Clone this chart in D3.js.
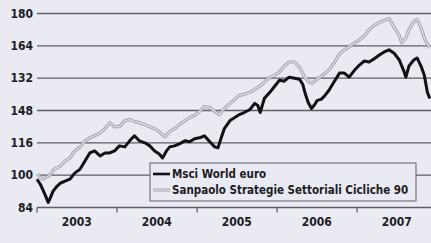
<!DOCTYPE html>
<html>
<head>
<meta charset="utf-8">
<script src="https://cdn.jsdelivr.net/npm/d3@7"></script>
<style>
    html, body { margin: 0; padding: 0; background: #e9eaf2; }
    #chart { width: 431px; height: 243px; overflow: hidden; }
    text { font-family: "Liberation Sans Narrow", "DejaVu Sans Condensed", sans-serif; font-weight: bold; fill: #1c1c22; }
</style>
</head>
<body>
<div id="chart"></div>
<script>
const YEARS = [2003, 2004, 2005, 2006, 2007];
const Y_TICKS = [84, 100, 116, 132, 148, 164, 180];
// labels as printed on the original (two of them swapped)
const Y_TICK_LABELS = ["84", "100", "116", "148", "132", "164", "180"];

const SERIES_NAMES = ["Msci World euro", "Sanpaolo Strategie Settoriali Cicliche 90"];

// decimal year / index value
const msciTimes = [
    2003.00, 2003.04, 2003.07, 2003.11, 2003.14, 2003.16, 2003.20, 2003.25, 2003.29, 2003.35,
    2003.41, 2003.47, 2003.54, 2003.60, 2003.66, 2003.72, 2003.79, 2003.85, 2003.91, 2003.97,
    2004.03, 2004.10, 2004.16, 2004.22, 2004.28, 2004.35, 2004.41, 2004.47, 2004.53, 2004.57,
    2004.62, 2004.66, 2004.72, 2004.78, 2004.85, 2004.91, 2004.97, 2005.03, 2005.09, 2005.16,
    2005.22, 2005.26, 2005.31, 2005.34, 2005.41, 2005.47, 2005.53, 2005.59, 2005.66, 2005.72,
    2005.76, 2005.79, 2005.84, 2005.91, 2005.97, 2006.03, 2006.09, 2006.15, 2006.22, 2006.28,
    2006.32, 2006.35, 2006.39, 2006.43, 2006.47, 2006.50, 2006.55, 2006.59, 2006.65, 2006.71,
    2006.78, 2006.84, 2006.90, 2006.97, 2007.03, 2007.09, 2007.15, 2007.21, 2007.28, 2007.34,
    2007.40, 2007.46, 2007.53, 2007.58, 2007.61, 2007.65, 2007.71, 2007.75, 2007.80, 2007.84,
    2007.88, 2007.91
];
const msciValues = [
    98, 95.5, 93, 89.5, 86.5, 88, 92, 94.5, 96, 97,
    98, 101, 103, 107, 111, 112, 109.5, 111, 111, 112,
    114.5, 114, 117, 119.5, 117, 116, 114.5, 112, 110.5, 108.5,
    112, 114, 114.5, 115.5, 117, 116.5, 118, 118.5, 119.5, 116.5,
    114, 113.5, 119.5, 123, 127, 128.5, 130, 131, 132.5, 135.5,
    134.5, 131, 138, 141, 144, 147, 146.5, 148.5, 148, 147.5,
    145, 140.5, 136, 133, 135, 137, 137.5, 139, 142, 146,
    150.5, 150.5, 148.5, 152, 154.5, 156.5, 156, 157.5, 159.5, 161,
    162, 160.5, 157, 152, 148.5, 154, 157, 158, 154, 149.5,
    141, 138
];

const sanpaoloTimes = [
    2003.00, 2003.04, 2003.07, 2003.12, 2003.16, 2003.22, 2003.29, 2003.35, 2003.41, 2003.47,
    2003.54, 2003.60, 2003.66, 2003.72, 2003.79, 2003.85, 2003.91, 2003.97, 2004.03, 2004.10,
    2004.16, 2004.22, 2004.28, 2004.35, 2004.41, 2004.47, 2004.53, 2004.60, 2004.66, 2004.72,
    2004.78, 2004.85, 2004.91, 2004.97, 2005.03, 2005.09, 2005.16, 2005.22, 2005.28, 2005.34,
    2005.41, 2005.47, 2005.53, 2005.59, 2005.66, 2005.72, 2005.78, 2005.84, 2005.91, 2005.97,
    2006.03, 2006.09, 2006.15, 2006.22, 2006.28, 2006.34, 2006.40, 2006.44, 2006.50, 2006.59,
    2006.65, 2006.72, 2006.78, 2006.84, 2006.90, 2006.97, 2007.03, 2007.09, 2007.15, 2007.21,
    2007.28, 2007.34, 2007.40, 2007.46, 2007.53, 2007.56, 2007.61, 2007.65, 2007.71, 2007.75,
    2007.80, 2007.85, 2007.91
];
const sanpaoloValues = [
    100.5, 99, 98, 99, 100, 103, 104.5, 107, 108.5, 112,
    114, 117, 118.5, 119.5, 121, 123, 126, 124, 124, 127,
    127.5, 126.5, 126, 125, 124, 123, 121.5, 119, 121.5, 123,
    125, 127, 128.5, 129.5, 131.5, 134, 133.5, 131.5, 130, 133,
    135.5, 137.5, 139.5, 140, 141, 142.5, 144, 146, 148.5, 149.5,
    151, 154, 156, 156, 153.5, 149, 146, 145.5, 147.5, 150,
    152, 156, 160, 162, 163.5, 165.5, 167, 169, 172, 174,
    175.5, 176.5, 177.5, 173.5, 169, 165.5, 168, 172, 176, 177,
    173, 167, 163
];

const toDate = t => {
    const yr = Math.floor(t);
    return d3.timeDay.offset(new Date(yr, 0, 1), Math.round((t - yr) * 365));
};

const Chart = {
    render() {
        const W = 431, H = 243;
        const left = 37, right = 437, top = 13.5, bottom = 207.5;

        const svg = d3.select("#chart").append("svg")
            .attr("width", W)
            .attr("height", H);

        const x = d3.scaleTime()
            .domain([new Date(2003, 0, 1), new Date(2008, 0, 1)])
            .range([left, right]);
        const y = d3.scaleLinear()
            .domain([84, 180])
            .range([bottom, top]);

        // horizontal grid lines + labels
        svg.append("g")
            .selectAll("line")
            .data(Y_TICKS)
            .enter()
            .append("line")
            .attr("x1", left)
            .attr("x2", W)
            .attr("y1", d => y(d))
            .attr("y2", d => y(d))
            .style("stroke", "#5c5d66")
            .style("stroke-width", 1.4);

        svg.append("g")
            .selectAll("text")
            .data(Y_TICKS)
            .enter()
            .append("text")
            .attr("x", 33)
            .attr("y", d => y(d) + 4)
            .attr("text-anchor", "end")
            .style("font-size", "12px")
            .text((d, i) => Y_TICK_LABELS[i]);

        // year ticks on the baseline
        const yearStarts = YEARS.map(yr => new Date(yr, 0, 1));
        svg.append("g")
            .selectAll("line")
            .data(yearStarts)
            .enter()
            .append("line")
            .attr("x1", d => x(d))
            .attr("x2", d => x(d))
            .attr("y1", bottom)
            .attr("y2", bottom + 5)
            .style("stroke", "#5c5d66")
            .style("stroke-width", 1.2);

        svg.append("g")
            .selectAll("text")
            .data(YEARS)
            .enter()
            .append("text")
            .attr("x", d => x(new Date(d, 6, 1)))
            .attr("y", 226)
            .attr("text-anchor", "middle")
            .style("font-size", "12px")
            .text(d => d);

        const msci = msciTimes.map((t, i) => ({date: toDate(t), value: msciValues[i]}));
        const sanpaolo = sanpaoloTimes.map((t, i) => ({date: toDate(t), value: sanpaoloValues[i]}));

        const line = d3.line()
            .x(d => x(d.date))
            .y(d => y(d.value));

        // grey series: outlined light line
        svg.append("path")
            .datum(sanpaolo)
            .attr("d", line)
            .style("fill", "none")
            .style("stroke", "#a2a3ab")
            .style("stroke-width", 3.2)
            .style("stroke-linejoin", "round");
        svg.append("path")
            .datum(sanpaolo)
            .attr("d", line)
            .style("fill", "none")
            .style("stroke", "#e2e3ea")
            .style("stroke-width", 1.2)
            .style("stroke-linejoin", "round");

        svg.append("path")
            .datum(msci)
            .attr("d", line)
            .style("fill", "none")
            .style("stroke", "#111114")
            .style("stroke-width", 3)
            .style("stroke-linejoin", "round");

        // legend
        const lg = svg.append("g").attr("transform", "translate(150,163)");
        lg.append("rect")
            .attr("width", 266)
            .attr("height", 38)
            .style("fill", "#e9eaf2")
            .style("stroke", "#5c5d66")
            .style("stroke-width", 1);

        lg.append("line")
            .attr("x1", 3).attr("x2", 20)
            .attr("y1", 11).attr("y2", 11)
            .style("stroke", "#111114")
            .style("stroke-width", 2.6);
        lg.append("line")
            .attr("x1", 3).attr("x2", 20)
            .attr("y1", 27).attr("y2", 27)
            .style("stroke", "#a2a3ab")
            .style("stroke-width", 3);
        lg.append("line")
            .attr("x1", 3).attr("x2", 20)
            .attr("y1", 27).attr("y2", 27)
            .style("stroke", "#e2e3ea")
            .style("stroke-width", 1.1);

        lg.selectAll(".legend-label")
            .data(SERIES_NAMES)
            .enter()
            .append("text")
            .attr("class", "legend-label")
            .attr("x", 22)
            .attr("y", (d, i) => 15 + i * 16)
            .style("font-size", "11.5px")
            .text(d => d);
    }
};

document.addEventListener('DOMContentLoaded', () => {
    Chart.render();
});
</script>
</body>
</html>
